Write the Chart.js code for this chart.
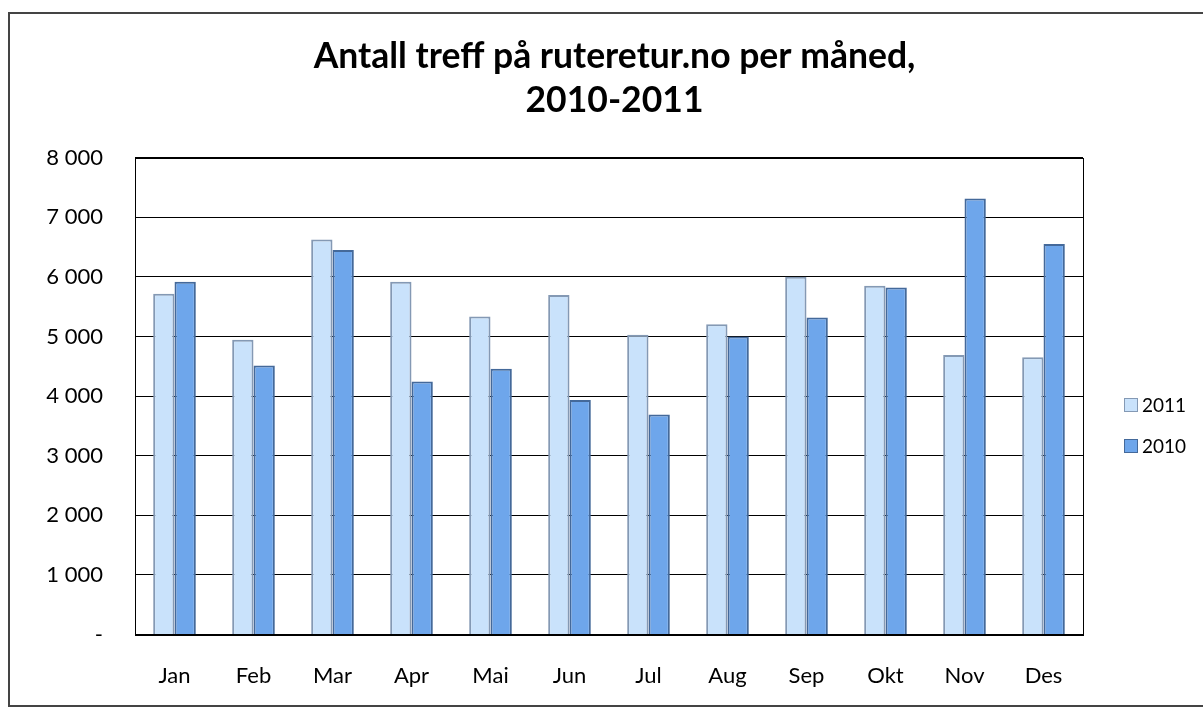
<!DOCTYPE html>
<html>
<head>
<meta charset="utf-8">
<script src="https://cdn.jsdelivr.net/npm/chart.js@4/dist/chart.umd.min.js"></script>
<style>
  html, body { margin: 0; padding: 0; background: #fff; }
  #wrap { position: absolute; left: 0; top: 0; width: 1203px; height: 713px; }
</style>
</head>
<body>
<div id="wrap"><canvas id="c" width="1203" height="713"></canvas></div>
<script>
const categories = ["Jan", "Feb", "Mar", "Apr", "Mai", "Jun", "Jul", "Aug", "Sep", "Okt", "Nov", "Des"];
const values2011 = [5716, 4945, 6630, 5921, 5335, 5698, 5028, 5206, 6005, 5854, 4690, 4653];
const values2010 = [5921, 4514, 6452, 4246, 4460, 3933, 3690, 5000, 5318, 5821, 7317, 6553];
const seriesLabels = ["2011", "2010"];
const titleLines = ["Antall treff på ruteretur.no per måned,", "2010-2011"];
const yTicks = [0, 1000, 2000, 3000, 4000, 5000, 6000, 7000, 8000];

const FONT = "Lato, 'Open Sans', sans-serif";

const frame = {
  id: 'frame',
  beforeDraw(chart) {
    const ctx = chart.ctx;
    ctx.save();
    ctx.fillStyle = '#fff';
    ctx.fillRect(0, 0, chart.width, chart.height);
    ctx.strokeStyle = '#444';
    ctx.lineWidth = 2;
    ctx.strokeRect(9, 13, 1220, 693);
    ctx.restore();
  }
};

const customLegend = {
  id: 'customLegend',
  afterDraw(chart) {
    const ctx = chart.ctx;
    ctx.save();
    const ys = [405, 446];
    chart.data.datasets.forEach((ds, i) => {
      const y = ys[i];
      ctx.fillStyle = ds.backgroundColor;
      ctx.fillRect(1124, y - 7, 14, 14);
      ctx.strokeStyle = ds.borderColor;
      ctx.lineWidth = 1;
      ctx.strokeRect(1124.5, y - 6.5, 13, 13);
      ctx.fillStyle = '#000';
      ctx.font = "19px " + FONT;
      ctx.textBaseline = 'middle';
      ctx.textAlign = 'left';
      ctx.fillText(ds.label, 1142, y + 1);
    });
    ctx.restore();
  }
};

const plotBorder = {
  id: 'plotBorder',
  afterDatasetsDraw(chart) {
    const a = chart.chartArea;
    const ctx = chart.ctx;
    ctx.save();
    ctx.strokeStyle = '#000';
    ctx.lineWidth = 1;
    ctx.strokeRect(Math.round(a.left) + 0.5, Math.round(a.top) + 0.5, Math.round(a.right - a.left), Math.round(a.bottom - a.top));
    ctx.restore();
  }
};

new Chart(document.getElementById('c'), {
  type: 'bar',
  data: {
    labels: categories,
    datasets: [
      { label: seriesLabels[0], data: values2011, backgroundColor: '#C9E2FB', borderColor: '#8499B4', borderWidth: 2 },
      { label: seriesLabels[1], data: values2010, backgroundColor: '#6EA6EB', borderColor: '#44699A', borderWidth: 2 }
    ]
  },
  options: {
    responsive: false,
    animation: false,
    layout: { padding: { top: 34, right: 0, bottom: 0, left: 26 } },
    datasets: { bar: { categoryPercentage: 0.54, barPercentage: 1.0 } },
    plugins: {
      legend: { display: false },
      tooltip: { enabled: false },
      title: {
        display: true,
        text: titleLines,
        color: '#000',
        font: { family: FONT, size: 35.5, weight: 'bold', lineHeight: 1.25 },
        padding: { top: 0, bottom: 35 }
      }
    },
    scales: {
      x: {
        grid: { display: false, drawTicks: false },
        border: { display: false },
        ticks: { color: '#000', font: { family: FONT, size: 22 }, padding: 28 },
        afterFit(scale) { scale.height = 78.5; }
      },
      y: {
        min: 0, max: 8000,
        afterBuildTicks(scale) { scale.ticks = yTicks.map(v => ({ value: v })); },
        grid: { color: '#000', lineWidth: 1, drawTicks: false },
        border: { display: false },
        ticks: {
          color: '#000',
          font: { family: FONT, size: 22 },
          padding: 32,
          callback(v) { return v === 0 ? '-' : String(v).replace(/\B(?=(\d{3})+(?!\d))/g, ' '); }
        },
        afterFit(scale) { scale.width = 109; }
      },
      yr: {
        position: 'right',
        display: true,
        grid: { display: false, drawTicks: false },
        border: { display: false },
        ticks: { display: false },
        afterFit(scale) { scale.width = 120; }
      }
    }
  },
  plugins: [frame, plotBorder, customLegend]
});
</script>
</body>
</html>
